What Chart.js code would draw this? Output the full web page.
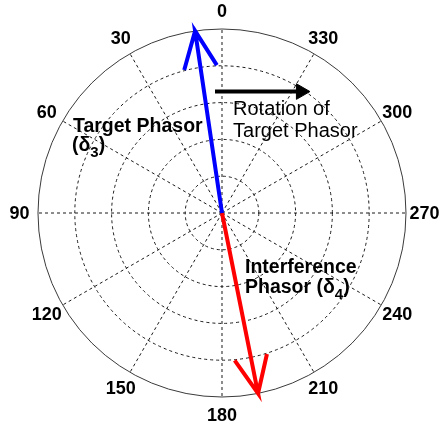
<!DOCTYPE html>
<html>
<head>
<meta charset="utf-8">
<script src="https://cdn.jsdelivr.net/npm/chart.js@4/dist/chart.umd.min.js"></script>
<style>
  html, body { margin: 0; padding: 0; background: #ffffff; }
  #wrap { width: 442px; height: 430px; }
</style>
</head>
<body>
<div id="wrap"><canvas id="c" width="442" height="430"></canvas></div>
<script>
// Polar grid: angle labels (degrees, counter-clockwise from the top) and ring radii
const angleTicks = [0, 30, 60, 90, 120, 150, 180, 210, 240, 270, 300, 330];
const ringRadii = [0.2, 0.4, 0.6, 0.8];
const outerRadius = 1.0;

// Phasors: angle in degrees (counter-clockwise from 0 at the top) and magnitude
const phasorNames = ['Target Phasor', 'Interference Phasor'];
const phasorAngles = [8.4, 191.3];
const phasorMagnitudes = [1.0, 1.0];

// Rotation arrow (start and end, cartesian units of the polar plane)
const rotationArrowX = [-0.038, 0.429];
const rotationArrowY = [0.660, 0.660];

const FONT = '"Liberation Sans", Arial, Helvetica, sans-serif';
const toRad = d => d * Math.PI / 180;

// Polar -> cartesian, 0 deg at the top, angles growing counter-clockwise
function polarXY(angleDeg, r) {
  return { x: -r * Math.sin(toRad(angleDeg)), y: r * Math.cos(toRad(angleDeg)) };
}

// Shaft plus a two-barb head, as one polyline
function phasorPath(angleDeg, mag) {
  const tip = polarXY(angleDeg, mag);
  const back = Math.atan2(-tip.y, -tip.x);
  const barbLen = 0.22 * mag, spread = toRad(24);
  const b1 = { x: tip.x + barbLen * Math.cos(back + spread), y: tip.y + barbLen * Math.sin(back + spread) };
  const b2 = { x: tip.x + barbLen * Math.cos(back - spread), y: tip.y + barbLen * Math.sin(back - spread) };
  return [{ x: 0, y: 0 }, tip, b1, tip, b2];
}

const phasorColors = ['#0000ff', '#ff0000'];
const datasets = phasorNames.map((name, i) => ({
  label: name,
  data: phasorPath(phasorAngles[i], phasorMagnitudes[i]),
  showLine: true,
  borderColor: phasorColors[i],
  borderWidth: 4,
  pointRadius: 0,
  fill: false,
  tension: 0
}));
datasets.push({
  label: 'Rotation of Target Phasor',
  data: rotationArrowX.map((x, i) => ({ x, y: rotationArrowY[i] })),
  showLine: true,
  borderColor: '#000000',
  borderWidth: 4,
  pointRadius: [0, 9],
  pointHoverRadius: [0, 9],
  pointStyle: 'triangle',
  rotation: 90,
  pointBackgroundColor: '#000000',
  pointBorderColor: '#000000',
  pointBorderWidth: 1,
  fill: false
});

// Grid rings, spokes and outer rim, drawn in the chart's own coordinates
const polarGrid = {
  id: 'polarGrid',
  beforeDatasetsDraw(chart) {
    const { ctx, scales: { x, y } } = chart;
    const cx = x.getPixelForValue(0), cy = y.getPixelForValue(0);
    const ux = x.getPixelForValue(1) - cx, uy = cy - y.getPixelForValue(1);
    ctx.save();
    ctx.lineWidth = 1;
    ctx.strokeStyle = '#1a1a1a';
    ctx.setLineDash([3, 3]);
    ringRadii.forEach(r => {
      ctx.beginPath();
      ctx.ellipse(cx, cy, r * ux, r * uy, 0, 0, Math.PI * 2);
      ctx.stroke();
    });
    angleTicks.forEach(a => {
      const p = polarXY(a, outerRadius);
      ctx.beginPath();
      ctx.moveTo(cx, cy);
      ctx.lineTo(x.getPixelForValue(p.x), y.getPixelForValue(p.y));
      ctx.stroke();
    });
    ctx.setLineDash([]);
    ctx.strokeStyle = '#3a3a3a';
    ctx.beginPath();
    ctx.ellipse(cx, cy, outerRadius * ux, outerRadius * uy, 0, 0, Math.PI * 2);
    ctx.stroke();
    ctx.restore();
  }
};

// Text with optional subscript segments
function drawRich(ctx, segs, px, py, size, weight) {
  let cur = px;
  segs.forEach(s => {
    const sz = s.sub ? Math.round(size * 0.75) : size;
    ctx.font = `${weight} ${sz}px ${FONT}`;
    ctx.fillText(s.t, cur, py + (s.sub ? size * 0.32 : 0));
    cur += ctx.measureText(s.t).width;
  });
}

const notes = [
  { segs: [{ t: 'Target Phasor' }], x: -0.810, y: 0.440, size: 19.5, weight: 'bold' },
  { segs: [{ t: '(δ' }, { t: '3', sub: true }, { t: ')' }], x: -0.815, y: 0.337, size: 19.5, weight: 'bold' },
  { segs: [{ t: 'Rotation of' }], x: 0.060, y: 0.533, size: 20, weight: 'normal' },
  { segs: [{ t: 'Target Phasor' }], x: 0.060, y: 0.413, size: 20, weight: 'normal' },
  { segs: [{ t: 'Interference' }], x: 0.125, y: -0.326, size: 19.5, weight: 'bold' },
  { segs: [{ t: 'Phasor (δ' }, { t: '4', sub: true }, { t: ')' }], x: 0.125, y: -0.435, size: 19.5, weight: 'bold' }
];

const polarLabels = {
  id: 'polarLabels',
  afterDatasetsDraw(chart) {
    const { ctx, scales: { x, y } } = chart;
    ctx.save();
    ctx.fillStyle = '#000000';
    ctx.textAlign = 'center';
    ctx.textBaseline = 'middle';
    ctx.font = `bold 18px ${FONT}`;
    angleTicks.forEach(a => {
      const p = polarXY(a, 1.1);
      ctx.fillText(String(a), x.getPixelForValue(p.x), y.getPixelForValue(p.y) + 1);
    });
    ctx.textAlign = 'left';
    ctx.textBaseline = 'alphabetic';
    notes.forEach(n => {
      drawRich(ctx, n.segs, x.getPixelForValue(n.x), y.getPixelForValue(n.y), n.size, n.weight);
    });
    ctx.restore();
  }
};

new Chart(document.getElementById('c'), {
  type: 'scatter',
  data: { datasets },
  options: {
    responsive: false,
    devicePixelRatio: 1,
    animation: false,
    layout: { padding: 0, autoPadding: false },
    plugins: { legend: { display: false }, tooltip: { enabled: false } },
    scales: {
      x: { type: 'linear', min: -1.2065, max: 1.1957, display: false },
      y: { type: 'linear', min: -1.1793, max: 1.1576, display: false }
    }
  },
  plugins: [polarGrid, polarLabels]
});
</script>
</body>
</html>
